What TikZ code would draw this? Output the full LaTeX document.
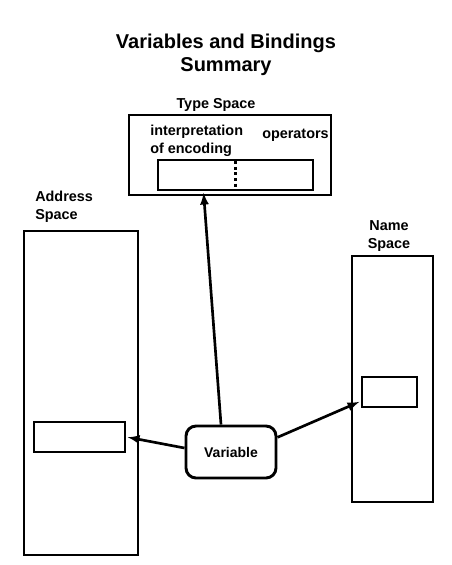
\documentclass[tikz,border=0pt]{standalone}
\usepackage{fontspec}
\setmainfont{Liberation Sans}
\usetikzlibrary{arrows,shapes,positioning}

\tikzset{
  spacebox/.style={draw, rectangle, inner sep=0pt, line width=2.2pt},
  lbl/.style={font=\bfseries\fontsize{10.8}{13.5}\selectfont, inner sep=0pt, align=left},
  bind/.style={->, >=latex, line width=2pt, shorten >=1pt}
}

\begin{document}
\begin{tikzpicture}[x=0.75pt,y=-0.75pt]
    \useasboundingbox (0,0) rectangle (452,565);
    % title
    \node[font=\bfseries\fontsize{15}{17.5}\selectfont, align=center] (title) at (226,55) {Variables and Bindings\\Summary};
    % type space
    \node[spacebox, minimum width=151.5pt, minimum height=60pt] (type) at (230,155) {};
    \node[spacebox, minimum width=116.25pt, minimum height=22.5pt] (tenc) at (235.5,175) {};
    \draw[line width=2.2pt, dotted] ([yshift=-2pt]tenc.north) -- ([yshift=2pt]tenc.south);
    \node[lbl] (typelbl) at (216,105) {Type Space};
    \node[lbl, anchor=north west] (interp) at (150,125) {interpretation\\of encoding};
    \node[lbl, anchor=west] (ops) at (262,135) {operators};
    % address space
    \node[spacebox, minimum width=85.5pt, minimum height=243pt] (addr) at (81,393) {};
    \node[spacebox, minimum width=68.25pt, minimum height=22.5pt] (acell) at (79.5,437) {};
    \node[lbl, anchor=north west] (addrlbl) at (35,191) {Address\\Space};
    % name space
    \node[spacebox, minimum width=60.75pt, minimum height=184.5pt] (name) at (392.5,379) {};
    \node[spacebox, minimum width=41.25pt, minimum height=22.5pt] (ncell) at (389.5,392) {};
    \node[lbl, align=center, anchor=north] (namelbl) at (389,220) {Name\\Space};
    % variable
    \node[spacebox, rounded corners=7.5pt, minimum width=67.5pt, minimum height=39pt, font=\bfseries\fontsize{10.5}{12}\selectfont] (var) at (231,452) {Variable};
    \draw[bind] ([xshift=-7.5pt]var.north) -- ([xshift=-24pt]tenc.south);
    \draw[bind] ([yshift=3pt]var.west) -- (acell.east);
    \draw[bind] ([yshift=11pt]var.east) -- ([yshift=-7pt]ncell.west);
\end{tikzpicture}
\end{document}
